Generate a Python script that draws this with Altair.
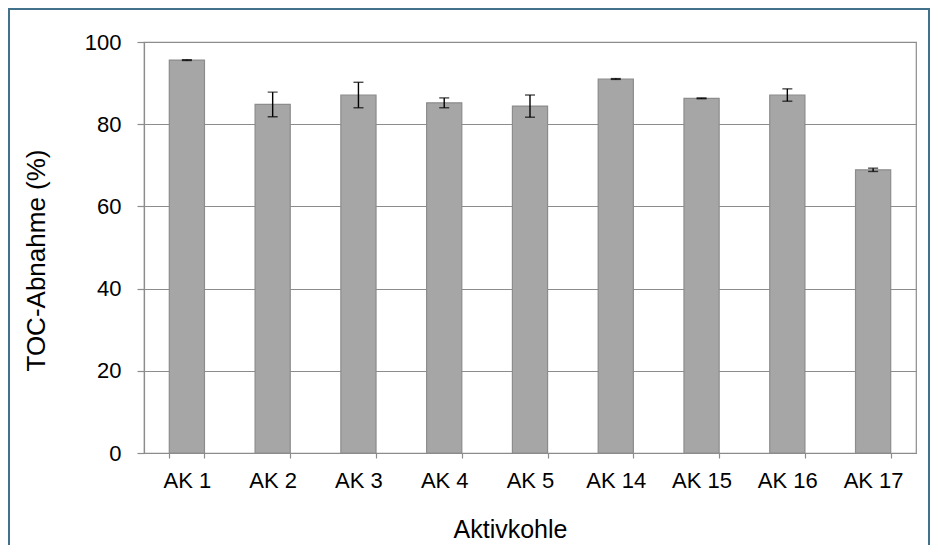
import altair as alt
import pandas as pd

categories = ["AK 1", "AK 2", "AK 3", "AK 4", "AK 5", "AK 14", "AK 15", "AK 16", "AK 17"]
values = [95.6, 84.8, 87.1, 85.2, 84.4, 91.0, 86.3, 87.1, 68.9]
errors = [0.1, 3.0, 3.1, 1.2, 2.7, 0.1, 0.1, 1.5, 0.4]
y_ticks = [0, 20, 40, 60, 80, 100]

df = pd.DataFrame({
    "cat": categories,
    "val": values,
    "lo": [v - e for v, e in zip(values, errors)],
    "hi": [v + e for v, e in zip(values, errors)],
})

FONT = "Liberation Sans"
W, H = 772, 411

x = alt.X("cat:N", sort=categories, title="Aktivkohle",
          scale=alt.Scale(paddingInner=0.59, paddingOuter=0.295),
          axis=alt.Axis(labelAngle=0, tickBand="extent", tickSize=5,
                        tickColor="#8c8c8c", domainColor="#8c8c8c",
                        labelFont=FONT, labelFontSize=22, labelColor="#000000",
                        labelBaseline="alphabetic", labelPadding=29,
                        titleFont=FONT, titleFontSize=25, titleFontWeight="normal",
                        titleColor="#000000", titleX=366, titleY=84,
                        titleBaseline="alphabetic"))

y = alt.Y("val:Q", title="TOC-Abnahme (%)",
          scale=alt.Scale(domain=[0, 100], nice=False),
          axis=alt.Axis(values=y_ticks, tickSize=7, tickColor="#8c8c8c",
                        domainColor="#8c8c8c", gridColor="#8c8c8c",
                        labelFont=FONT, labelFontSize=22, labelColor="#000000",
                        labelPadding=16,
                        titleFont=FONT, titleFontSize=26, titleFontWeight="normal",
                        titleColor="#000000", titleX=-95, titleY=218))

bars = alt.Chart(df).mark_bar(color="#a6a6a6", stroke="#8c8c8c", strokeWidth=1.2).encode(
    x=x, y=y)

rules = alt.Chart(df).mark_rule(color="#000000", strokeWidth=1.4).encode(
    x=alt.X("cat:N", sort=categories), y="lo:Q", y2="hi:Q")

caps_hi = alt.Chart(df).mark_tick(color="#000000", size=10, thickness=1.4).encode(
    x=alt.X("cat:N", sort=categories), y="hi:Q")
caps_lo = alt.Chart(df).mark_tick(color="#000000", size=10, thickness=1.4).encode(
    x=alt.X("cat:N", sort=categories), y="lo:Q")

frame = alt.Chart(alt.Data(values=[{}])).mark_rect(
    fill="transparent", stroke="#41718b", strokeWidth=2).encode(
    x=alt.value(-135), x2=alt.value(W + 13),
    y=alt.value(-33), y2=alt.value(H + 110))

chart = alt.layer(bars, rules, caps_hi, caps_lo, frame).properties(
    width=W, height=H,
    autosize=alt.AutoSizeParams(type="none"),
    padding={"left": 136, "top": 34, "right": 14, "bottom": 92},
).configure_view(stroke="#8c8c8c", strokeWidth=1.2).configure_axis(
    gridWidth=1.2, domainWidth=1.2, tickWidth=1.2)

chart.save("out.html", embed_options={"renderer": "svg", "actions": False})
